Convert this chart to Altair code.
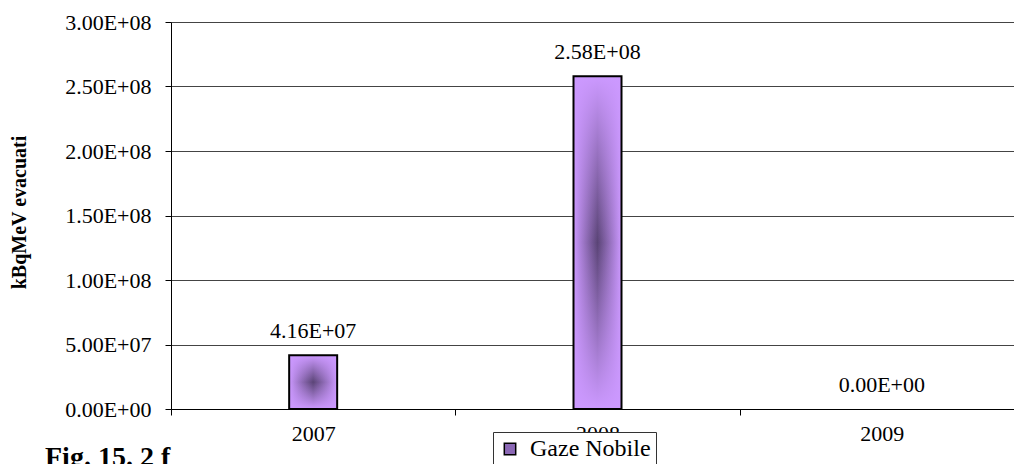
import altair as alt
import pandas as pd

# Annual activity released (noble gases)
years = ["2007", "2008", "2009"]
released = [4.16e7, 2.58e8, 0.0]
series_name = "Gaze Nobile"
caption = "Fig. 15. 2 f"

y_ticks = [0, 5e7, 1e8, 1.5e8, 2e8, 2.5e8, 3e8]

df = pd.DataFrame({
    "year": years,
    "value": released,
    "series": [series_name] * len(years),
    "label": [f"{v:.2E}" for v in released],
})

SERIF = "Liberation Serif"
LIGHT = "#CC99FF"
DARK = "#5A4476"
FS = 22

# Scientific notation with a two-digit exponent, e.g. 2.50E+08
sci_expr = ("slice(upper(format(datum.value,'.2e')),0,-1) + '0' + "
            "slice(upper(format(datum.value,'.2e')),-1)")

x_enc = alt.X(
    "year:N",
    scale=alt.Scale(range=[0, 853], paddingInner=0, paddingOuter=0),
    axis=alt.Axis(
        title=None, labelAngle=0, labelFont=SERIF, labelFontSize=FS,
        labelColor="black", labelPadding=8, tickBand="extent", tickSize=6,
        tickColor="black", domainColor="black", grid=False,
    ),
)
y_enc = alt.Y(
    "value:Q",
    scale=alt.Scale(domain=[0, 3e8], nice=False),
    axis=alt.Axis(
        values=y_ticks, labelExpr=sci_expr, labelFont=SERIF, labelFontSize=FS,
        labelColor="black", labelPadding=14, tickSize=6, tickColor="black",
        domainColor="black", gridColor="#444444", gridWidth=1,
        title="kBqMeV evacuati", titleFont=SERIF, titleFontSize=20,
        titleFontWeight="bold", titleColor="black", titleX=-152, titleY=190,
        titleAngle=270, titleBaseline="middle", titleAlign="center",
    ),
)

base = alt.Chart(df)
nonzero = base.transform_filter("datum.value > 0")

# Plain bar carrying the legend entry
legend_bars = nonzero.mark_bar(width=48).encode(
    x=x_enc, y=y_enc,
    color=alt.Color(
        "series:N", scale=alt.Scale(range=["#8B68B5"]),
        legend=alt.Legend(
            title=None, orient="none", legendX=322, legendY=410,
            labelFont=SERIF, labelFontSize=24, labelColor="black",
            symbolType="square", symbolSize=130, symbolStrokeColor="black",
            symbolStrokeWidth=1.5, fillColor="white", strokeColor="#333333",
            padding=5, labelOffset=8,
        ),
    ),
)

# Horizontal shading: light edges, dark centre
h_shade = nonzero.mark_bar(
    width=48,
    fill=alt.LinearGradient(
        gradient="linear", x1=0, y1=0, x2=1, y2=0,
        stops=[
            alt.GradientStop(color=LIGHT, offset=0),
            alt.GradientStop(color=DARK, offset=0.5),
            alt.GradientStop(color=LIGHT, offset=1),
        ],
    ),
).encode(x=x_enc, y=y_enc)

# Vertical shading fading to transparent in the middle, with outline
v_shade = nonzero.mark_bar(
    width=48, stroke="black", strokeWidth=2,
    fill=alt.LinearGradient(
        gradient="linear", x1=0, y1=0, x2=0, y2=1,
        stops=[
            alt.GradientStop(color=LIGHT, offset=0),
            alt.GradientStop(color="rgba(204,153,255,0)", offset=0.5),
            alt.GradientStop(color=LIGHT, offset=1),
        ],
    ),
).encode(x=x_enc, y=y_enc)

labels = base.mark_text(
    font=SERIF, fontSize=FS, color="black", baseline="middle", dy=-24,
).encode(x=x_enc, y=y_enc, text="label:N")

# Figure caption below the chart
caption_text = alt.Chart(pd.DataFrame({"caption": [caption]})).mark_text(
    font=SERIF, fontSize=28, fontWeight="bold", color="black",
    align="left", baseline="alphabetic",
).encode(text="caption:N", x=alt.value(-126), y=alt.value(444))

chart = alt.layer(legend_bars, h_shade, v_shade, labels, caption_text).properties(
    width=843,
    height=387,
    padding={"left": 171, "top": 22, "right": 0, "bottom": 55},
    autosize=alt.AutoSizeParams(type="none"),
).configure_view(stroke=None).configure(background="white")

chart.save("out.html", embed_options={"renderer": "svg", "actions": False})
